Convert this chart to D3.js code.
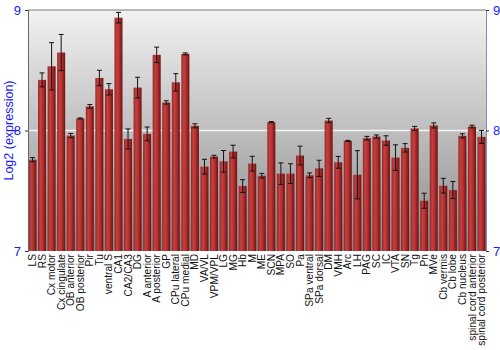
<!DOCTYPE html>
<html>
<head>
<meta charset="utf-8">
<script src="https://cdn.jsdelivr.net/npm/d3@7"></script>
<style>
body { margin: 0; background: #fff; }
text { font-family: "Liberation Sans", Arial, sans-serif; }
</style>
</head>
<body>
<div class="content"></div>
<script>
const w = 500;
const h = 350;
const m = {top: 10, right: 14, bottom: 99, left: 28};

const regions = ['LS', 'RS', 'Cx motor', 'Cx cingulate', 'OB anterior', 'OB posterior', 'Pir', 'Tu',
	'ventral S', 'CA1', 'CA2/CA3', 'DG', 'A anterior', 'A posterior', 'GP', 'CPu lateral', 'CPu medial',
	'MD', 'VA/VL', 'VPM/VPL', 'LG', 'MG', 'Hb', 'M', 'ME', 'SCN', 'MPA', 'SO', 'Pa', 'SPa ventral',
	'SPa dorsal', 'DM', 'VMH', 'Arc', 'LH', 'PAG', 'SC', 'IC', 'VTA', 'SN', 'Tg', 'Pn', 'MVe',
	'Cb vermis', 'Cb lobe', 'Cb nucleus', 'spinal cord anterior', 'spinal cord posterior'];

const expression = [7.758, 8.42, 8.533, 8.647, 7.958, 8.1, 8.2, 8.436,
	8.342, 8.936, 7.93, 8.356, 7.972, 8.628, 8.233, 8.4, 8.636,
	8.039, 7.7, 7.783, 7.744, 7.825, 7.539, 7.725, 7.625, 8.069, 7.642, 7.642, 7.792, 7.628,
	7.686, 8.083, 7.736, 7.914, 7.633, 7.936, 7.95, 7.917, 7.775, 7.856, 8.017, 7.417, 8.042,
	7.542, 7.506, 7.956, 8.033, 7.947];

const stderr = [0.017, 0.058, 0.196, 0.15, 0.018, 0.004, 0.015, 0.064,
	0.047, 0.044, 0.083, 0.086, 0.057, 0.064, 0.014, 0.072, 0.008,
	0.017, 0.061, 0.011, 0.09, 0.053, 0.053, 0.061, 0.019, 0.005, 0.089, 0.082, 0.078, 0.02,
	0.067, 0.018, 0.049, 0.004, 0.2, 0.015, 0.013, 0.039, 0.106, 0.035, 0.017, 0.0625, 0.021,
	0.061, 0.071, 0.017, 0.011, 0.054];

const yTicks = [7, 8, 9];

const data = regions.map((r, i) => ({region: r, value: expression[i], err: stderr[i]}));

const svg = d3.select('.content').append('svg')
	.attr('width', w)
	.attr('height', h);

const defs = svg.append('defs');

const bg = defs.append('linearGradient')
	.attr('id', 'bg')
	.attr('x1', 0).attr('y1', 0).attr('x2', 0).attr('y2', 1);
bg.append('stop').attr('offset', '0%').attr('stop-color', '#f2f2f2');
bg.append('stop').attr('offset', '100%').attr('stop-color', '#8a8a8a');

const barGrad = defs.append('linearGradient')
	.attr('id', 'bar')
	.attr('x1', 0).attr('y1', 0).attr('x2', 1).attr('y2', 0);
barGrad.append('stop').attr('offset', '0%').attr('stop-color', '#962424');
barGrad.append('stop').attr('offset', '30%').attr('stop-color', '#c64040');
barGrad.append('stop').attr('offset', '60%').attr('stop-color', '#b03030');
barGrad.append('stop').attr('offset', '100%').attr('stop-color', '#6a1212');

const x = d3.scaleBand()
	.domain(regions)
	.range([m.left, w - m.right])
	.paddingInner(0.16)
	.paddingOuter(0.05);

const y = d3.scaleLinear()
	.domain([7, 9])
	.range([h - m.bottom, m.top]);

// plot background
svg.append('rect')
	.attr('x', m.left)
	.attr('y', m.top)
	.attr('width', w - m.left - m.right)
	.attr('height', h - m.top - m.bottom)
	.attr('fill', 'url(#bg)');

svg.append('line')
	.attr('x1', m.left).attr('x2', w - m.right)
	.attr('y1', y(9)).attr('y2', y(9))
	.attr('stroke', '#777');

// grid line at 8
svg.append('line')
	.attr('x1', m.left).attr('x2', w - m.right)
	.attr('y1', y(8)).attr('y2', y(8))
	.attr('stroke', '#f4f4f4')
	.attr('stroke-width', 1.5);

svg.selectAll('.bar')
	.data(data)
	.enter()
	.append('rect')
	.attr('class', 'bar')
	.attr('x', d => x(d.region))
	.attr('y', d => y(d.value))
	.attr('width', x.bandwidth())
	.attr('height', d => y(7) - y(d.value))
	.attr('fill', 'url(#bar)');

const eb = svg.selectAll('.err')
	.data(data)
	.enter()
	.append('g')
	.attr('class', 'err')
	.attr('stroke', '#111')
	.attr('stroke-width', 1);

eb.append('line')
	.attr('x1', d => x(d.region) + x.bandwidth() / 2)
	.attr('x2', d => x(d.region) + x.bandwidth() / 2)
	.attr('y1', d => y(d.value + d.err))
	.attr('y2', d => y(d.value - d.err));
eb.append('line')
	.attr('x1', d => x(d.region) + x.bandwidth() / 2 - 2.5)
	.attr('x2', d => x(d.region) + x.bandwidth() / 2 + 2.5)
	.attr('y1', d => y(d.value + d.err))
	.attr('y2', d => y(d.value + d.err));
eb.append('line')
	.attr('x1', d => x(d.region) + x.bandwidth() / 2 - 2.5)
	.attr('x2', d => x(d.region) + x.bandwidth() / 2 + 2.5)
	.attr('y1', d => y(d.value - d.err))
	.attr('y2', d => y(d.value - d.err));

// axes
const left = svg.append('g')
	.attr('transform', `translate(${m.left},0)`)
	.call(d3.axisLeft(y).tickValues(yTicks).tickFormat(d3.format('d')).tickSize(3).tickPadding(4));
left.select('.domain').attr('stroke', '#666');
left.selectAll('.tick line').attr('stroke', '#333');
left.selectAll('text').attr('fill', '#1a1aff').style('font-size', '13px');

const right = svg.append('g')
	.attr('transform', `translate(${w - m.right},0)`)
	.call(d3.axisRight(y).tickValues(yTicks).tickFormat(d3.format('d')).tickSize(3).tickPadding(4));
right.select('.domain').attr('stroke', '#8888cc');
right.selectAll('.tick line').attr('stroke', '#333');
right.selectAll('text').attr('fill', '#1a1aff').style('font-size', '13px');

const bottom = svg.append('g')
	.attr('transform', `translate(0,${h - m.bottom})`)
	.call(d3.axisBottom(x).tickSize(0).tickPadding(3));
bottom.select('.domain').remove();
bottom.selectAll('text')
	.attr('transform', 'rotate(-90)')
	.attr('text-anchor', 'end')
	.attr('x', -3)
	.attr('y', 0)
	.attr('dy', '0.35em')
	.attr('fill', '#111')
	.style('font-size', '10.2px');

svg.append('text')
	.attr('transform', `translate(13,${y(8)}) rotate(-90)`)
	.attr('text-anchor', 'middle')
	.attr('fill', '#1a1aff')
	.style('font-size', '12.5px')
	.text('Log2 (expression)');
</script>
</body>
</html>
